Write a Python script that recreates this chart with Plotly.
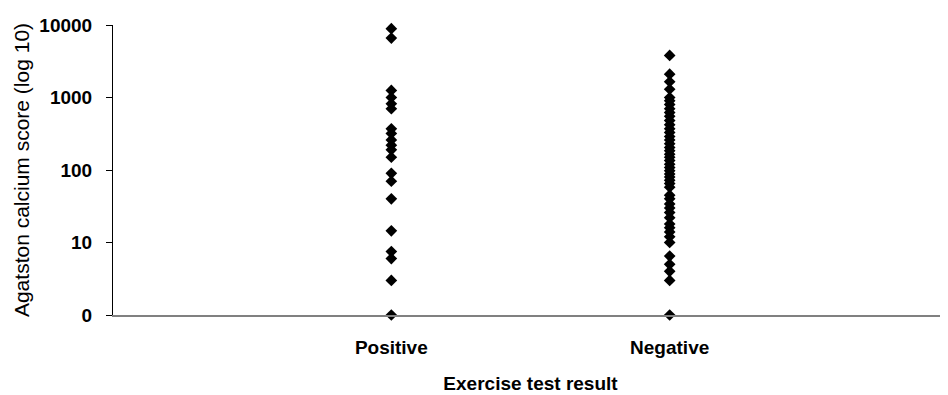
import plotly.graph_objects as go

categories = ["Positive", "Negative"]

positive_scores = [8900, 6600, 1250, 1000, 820, 700, 370, 320, 260, 220, 190, 150,
                   90, 70, 40, 14.5, 7.5, 6, 3, 0]

negative_scores = [3800, 2100, 1650, 1300, 1000, 900, 800, 700, 620, 550, 480, 420,
                   370, 330, 290, 260, 230, 205, 185, 165, 150, 135, 120, 108, 98,
                   88, 80, 72, 65, 58, 45, 40, 34, 30, 26, 22, 18, 16, 14, 12, 10,
                   6.5, 5, 4, 3, 0]

y_tick_vals = [1, 10, 100, 1000, 10000]
y_tick_text = ["0", "10", "100", "1000", "10000"]


def to_plot(v):
    # a score of 0 is shown at the bottom line of the log axis (10^0)
    return max(v, 1)


fig = go.Figure()
for cat, vals in zip(categories, [positive_scores, negative_scores]):
    fig.add_trace(go.Scatter(
        x=[cat] * len(vals),
        y=[to_plot(v) for v in vals],
        mode="markers",
        marker=dict(symbol="diamond", size=9, color="black"),
        showlegend=False,
        cliponaxis=False,
    ))

font_family = "Liberation Sans, Arial, sans-serif"

fig.update_layout(
    width=940, height=387,
    margin=dict(l=105, r=0, t=17, b=80),
    paper_bgcolor="white", plot_bgcolor="white",
    font=dict(family=font_family, color="black"),
)

fig.update_xaxes(
    type="category",
    categoryorder="array", categoryarray=categories,
    range=[-1, 2],
    showgrid=False, zeroline=False,
    showline=True, linecolor="#808080", linewidth=2,
    ticks="",
    tickvals=categories,
    ticktext=["<b>Positive</b>", "<b>Negative</b>"],
    tickfont=dict(size=19, family=font_family),
    ticklabelstandoff=14,
    title=dict(text="<b>Exercise test result</b>", font=dict(size=19, family=font_family), standoff=20),
)

fig.update_yaxes(
    type="log",
    range=[0, 4],
    showgrid=False, zeroline=False,
    showline=True, linecolor="black", linewidth=1,
    ticks="outside", ticklen=6, tickcolor="black",
    tickvals=y_tick_vals,
    ticktext=["<b>%s</b>" % t for t in y_tick_text],
    tickfont=dict(size=19, family=font_family),
    ticklabelstandoff=10,
    title=dict(text="Agatston calcium score (log 10)", font=dict(size=21, family=font_family), standoff=4),
)

fig.write_html("out.html")
